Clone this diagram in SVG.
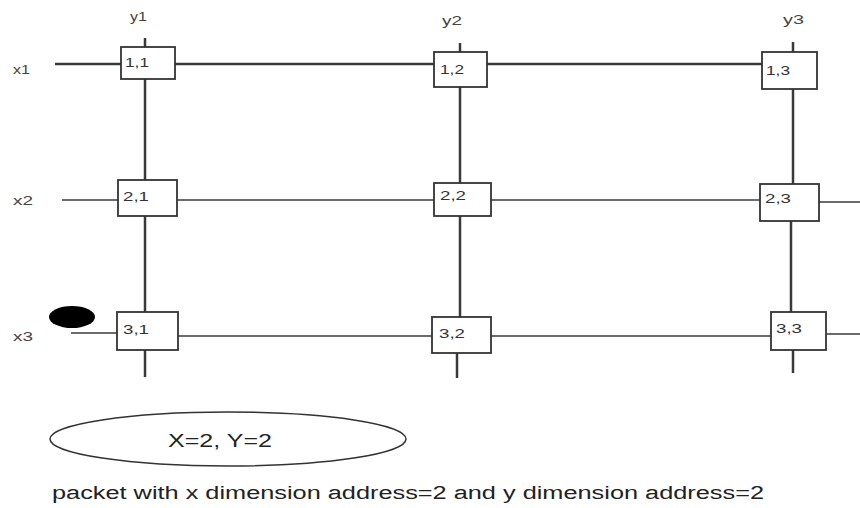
<svg xmlns="http://www.w3.org/2000/svg" width="860" height="508" viewBox="0 0 860 508">
<style>
.ln{stroke:#3a3a3a;stroke-width:2.5;fill:none}
.thin{stroke:#3a3a3a;stroke-width:1.6;fill:none}
.box{fill:#fff;stroke:#333;stroke-width:1.8}
.lab{font-family:"Liberation Sans",Arial,sans-serif;font-size:13px;fill:#444}
.nl{font-family:"Liberation Sans",Arial,sans-serif;font-size:12.5px;fill:#333}
.big{font-family:"Liberation Sans",Arial,sans-serif;font-size:18px;fill:#222}
.cap{font-family:"Liberation Sans",Arial,sans-serif;font-size:18px;fill:#222}
</style>
<rect width="860" height="508" fill="#fff"/>
<g id="connectors">
<line class="ln" x1="145" y1="38" x2="145" y2="377"/>
<line class="ln" x1="460" y1="43" x2="460" y2="317"/>
<line class="ln" x1="457" y1="353" x2="457" y2="378"/>
<line class="ln" x1="793" y1="42" x2="793" y2="184"/>
<line class="ln" x1="791" y1="221" x2="791" y2="312"/>
<line class="ln" x1="793" y1="350" x2="793" y2="373"/>
<line class="ln" x1="55" y1="64" x2="763" y2="64"/>
<line class="thin" x1="62" y1="200" x2="760" y2="200"/>
<line class="thin" x1="819" y1="202" x2="860" y2="202"/>
<line class="thin" x1="71" y1="333" x2="178" y2="333"/>
<line class="thin" x1="178" y1="336" x2="771" y2="336"/>
<line class="thin" x1="826" y1="334" x2="860" y2="334"/>
</g>
<g id="labels">
<text class="lab" x="130" y="21" textLength="17" lengthAdjust="spacingAndGlyphs">y1</text>
<text class="lab" x="442" y="25" textLength="20" lengthAdjust="spacingAndGlyphs">y2</text>
<text class="lab" x="783" y="24" textLength="21" lengthAdjust="spacingAndGlyphs">y3</text>
<text class="lab" x="13" y="74" textLength="17" lengthAdjust="spacingAndGlyphs">x1</text>
<text class="lab" x="13" y="205" textLength="20" lengthAdjust="spacingAndGlyphs">x2</text>
<text class="lab" x="13" y="341" textLength="20" lengthAdjust="spacingAndGlyphs">x3</text>
</g>
<g id="n11"><rect class="box" x="121" y="47" width="54" height="32"/><text class="nl" x="125" y="67" textLength="24" lengthAdjust="spacingAndGlyphs">1,1</text></g>
<g id="n12"><rect class="box" x="434" y="52" width="53" height="35"/><text class="nl" x="440" y="74" textLength="24" lengthAdjust="spacingAndGlyphs">1,2</text></g>
<g id="n13"><rect class="box" x="762" y="52" width="55" height="37"/><text class="nl" x="766" y="75" textLength="24" lengthAdjust="spacingAndGlyphs">1,3</text></g>
<g id="n21"><rect class="box" x="118" y="180" width="59" height="36"/><text class="nl" x="123" y="201" textLength="26" lengthAdjust="spacingAndGlyphs">2,1</text></g>
<g id="n22"><rect class="box" x="434" y="183" width="57" height="33"/><text class="nl" x="440" y="200" textLength="26" lengthAdjust="spacingAndGlyphs">2,2</text></g>
<g id="n23"><rect class="box" x="760" y="184" width="59" height="37"/><text class="nl" x="765" y="203" textLength="26" lengthAdjust="spacingAndGlyphs">2,3</text></g>
<g id="n31"><rect class="box" x="117" y="312" width="61" height="38"/><text class="nl" x="123" y="334" textLength="26" lengthAdjust="spacingAndGlyphs">3,1</text></g>
<g id="n32"><rect class="box" x="432" y="317" width="59" height="36"/><text class="nl" x="439" y="338" textLength="26" lengthAdjust="spacingAndGlyphs">3,2</text></g>
<g id="n33"><rect class="box" x="771" y="312" width="55" height="38"/><text class="nl" x="776" y="333" textLength="26" lengthAdjust="spacingAndGlyphs">3,3</text></g>
<g id="packet"><ellipse cx="72" cy="317" rx="23" ry="11" fill="#000"/></g>
<g id="legend"><ellipse cx="228" cy="439" rx="178" ry="27" fill="#fff" stroke="#333" stroke-width="1.5"/><text class="big" x="168" y="447" textLength="104" lengthAdjust="spacingAndGlyphs">X=2, Y=2</text></g>
<text class="cap" x="52" y="499" textLength="712" lengthAdjust="spacingAndGlyphs">packet with x dimension address=2 and y dimension address=2</text>
</svg>
